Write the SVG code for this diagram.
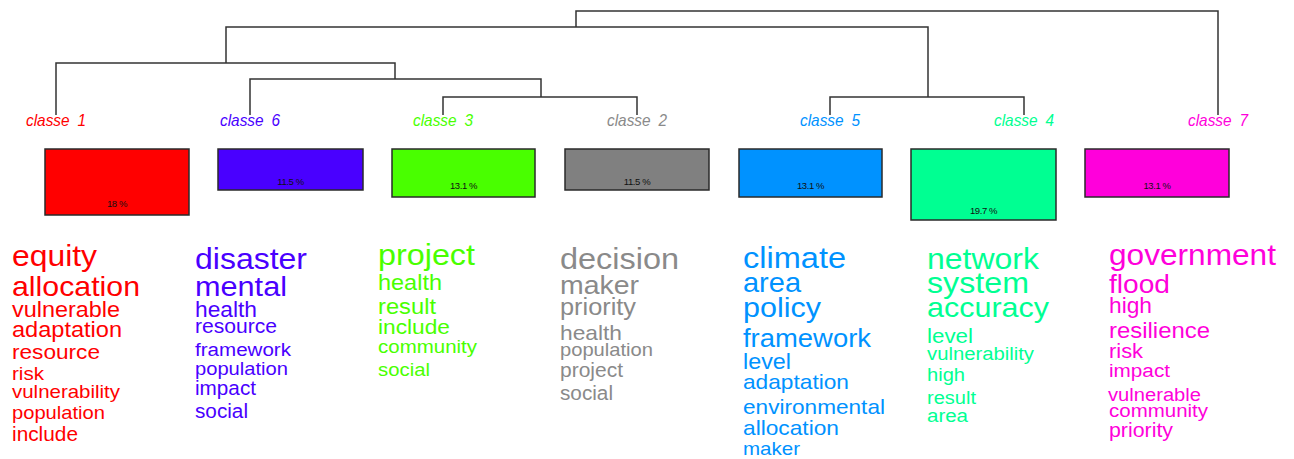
<svg xmlns="http://www.w3.org/2000/svg" width="1294" height="459" viewBox="0 0 1294 459">
<style>
text{font-family:"Liberation Sans",Arial,sans-serif}
.lbl{font-size:17px;font-style:italic;text-anchor:middle;word-spacing:4px}
.box{stroke:#2a2a2a;stroke-width:1.5}
.pct{font-size:9.5px;fill:#111;text-anchor:middle;letter-spacing:-0.4px}
.dend{fill:none;stroke:#333;stroke-width:1.5}
.c1{fill:#FF0000}.c2{fill:#8a8a8a}.c3{fill:#49FF00}.c4{fill:#00FF92}.c5{fill:#0092FF}.c6{fill:#4900FF}.c7{fill:#FF00DB}
</style>
<rect width="1294" height="459" fill="#fff"/>
<g id="connectors" class="dend">
<path d="M576,27 V11 H1218 V115"/>
<path d="M226,63 V27 H928 V97"/>
<path d="M56,115 V63 H395 V79"/>
<path d="M250,115 V79 H541 V97"/>
<path d="M443,115 V97 H637 V115"/>
<path d="M830,115 V97 H1024 V115"/>
</g>
<g id="classe1">
<text class="lbl c1" x="56" y="126" textLength="60" lengthAdjust="spacingAndGlyphs">classe 1</text>
<rect class="box" x="45" y="149" width="144" height="66" fill="#FF0000"/>
<text class="pct" x="117" y="206.5">18 %</text>
<g class="c1">
<text x="12" y="266" font-size="29.8" textLength="85" lengthAdjust="spacingAndGlyphs">equity</text>
<text x="12" y="296" font-size="28.3" textLength="128" lengthAdjust="spacingAndGlyphs">allocation</text>
<text x="12" y="317" font-size="21.9" textLength="108" lengthAdjust="spacingAndGlyphs">vulnerable</text>
<text x="12" y="337" font-size="21.9" textLength="110" lengthAdjust="spacingAndGlyphs">adaptation</text>
<text x="12" y="359" font-size="21.1" textLength="88" lengthAdjust="spacingAndGlyphs">resource</text>
<text x="12" y="380" font-size="19" textLength="32" lengthAdjust="spacingAndGlyphs">risk</text>
<text x="12" y="398" font-size="19" textLength="108" lengthAdjust="spacingAndGlyphs">vulnerability</text>
<text x="12" y="419" font-size="18.6" textLength="93" lengthAdjust="spacingAndGlyphs">population</text>
<text x="12" y="441" font-size="19.3" textLength="66" lengthAdjust="spacingAndGlyphs">include</text>
</g>
</g>
<g id="classe6">
<text class="lbl c6" x="250" y="126" textLength="60" lengthAdjust="spacingAndGlyphs">classe 6</text>
<rect class="box" x="218" y="149" width="145" height="41" fill="#4900FF"/>
<text class="pct" x="290.5" y="185">11.5 %</text>
<g class="c6">
<text x="195" y="269" font-size="29.7" textLength="112" lengthAdjust="spacingAndGlyphs">disaster</text>
<text x="195" y="296" font-size="28.4" textLength="92" lengthAdjust="spacingAndGlyphs">mental</text>
<text x="195" y="317" font-size="21.3" textLength="62" lengthAdjust="spacingAndGlyphs">health</text>
<text x="195" y="333" font-size="19.5" textLength="82" lengthAdjust="spacingAndGlyphs">resource</text>
<text x="195" y="356" font-size="19.2" textLength="96" lengthAdjust="spacingAndGlyphs">framework</text>
<text x="195" y="375" font-size="18.6" textLength="93" lengthAdjust="spacingAndGlyphs">population</text>
<text x="195" y="395" font-size="19.3" textLength="61" lengthAdjust="spacingAndGlyphs">impact</text>
<text x="195" y="418" font-size="19.4" textLength="53" lengthAdjust="spacingAndGlyphs">social</text>
</g>
</g>
<g id="classe3">
<text class="lbl c3" x="443" y="126" textLength="60" lengthAdjust="spacingAndGlyphs">classe 3</text>
<rect class="box" x="392" y="149" width="143" height="48" fill="#49FF00"/>
<text class="pct" x="463.5" y="189">13.1 %</text>
<g class="c3">
<text x="378" y="265" font-size="30" textLength="97" lengthAdjust="spacingAndGlyphs">project</text>
<text x="378" y="290" font-size="21.9" textLength="64" lengthAdjust="spacingAndGlyphs">health</text>
<text x="378" y="314" font-size="21.9" textLength="58" lengthAdjust="spacingAndGlyphs">result</text>
<text x="378" y="334" font-size="21" textLength="72" lengthAdjust="spacingAndGlyphs">include</text>
<text x="378" y="353" font-size="19.1" textLength="99" lengthAdjust="spacingAndGlyphs">community</text>
<text x="378" y="376" font-size="19.1" textLength="52" lengthAdjust="spacingAndGlyphs">social</text>
</g>
</g>
<g id="classe2">
<text class="lbl c2" x="637" y="126" textLength="60" lengthAdjust="spacingAndGlyphs">classe 2</text>
<rect class="box" x="565" y="149" width="144" height="41" fill="#808080"/>
<text class="pct" x="637" y="185">11.5 %</text>
<g class="c2">
<text x="560" y="269" font-size="30.1" textLength="119" lengthAdjust="spacingAndGlyphs">decision</text>
<text x="560" y="294" font-size="26.5" textLength="79" lengthAdjust="spacingAndGlyphs">maker</text>
<text x="560" y="315" font-size="23.5" textLength="76" lengthAdjust="spacingAndGlyphs">priority</text>
<text x="560" y="340" font-size="21" textLength="62" lengthAdjust="spacingAndGlyphs">health</text>
<text x="560" y="356" font-size="18.6" textLength="93" lengthAdjust="spacingAndGlyphs">population</text>
<text x="560" y="377" font-size="19.4" textLength="63" lengthAdjust="spacingAndGlyphs">project</text>
<text x="560" y="400" font-size="19.4" textLength="53" lengthAdjust="spacingAndGlyphs">social</text>
</g>
</g>
<g id="classe5">
<text class="lbl c5" x="830" y="126" textLength="60" lengthAdjust="spacingAndGlyphs">classe 5</text>
<rect class="box" x="739" y="149" width="143" height="48" fill="#0092FF"/>
<text class="pct" x="810.5" y="189">13.1 %</text>
<g class="c5">
<text x="743" y="268" font-size="30.3" textLength="103" lengthAdjust="spacingAndGlyphs">climate</text>
<text x="743" y="292" font-size="27.1" textLength="58" lengthAdjust="spacingAndGlyphs">area</text>
<text x="743" y="317" font-size="28.5" textLength="78" lengthAdjust="spacingAndGlyphs">policy</text>
<text x="743" y="347" font-size="25.6" textLength="128" lengthAdjust="spacingAndGlyphs">framework</text>
<text x="743" y="369" font-size="21.9" textLength="48" lengthAdjust="spacingAndGlyphs">level</text>
<text x="743" y="389" font-size="21.1" textLength="106" lengthAdjust="spacingAndGlyphs">adaptation</text>
<text x="743" y="414" font-size="21.1" textLength="142" lengthAdjust="spacingAndGlyphs">environmental</text>
<text x="743" y="435" font-size="21.1" textLength="96" lengthAdjust="spacingAndGlyphs">allocation</text>
<text x="743" y="455" font-size="19" textLength="57" lengthAdjust="spacingAndGlyphs">maker</text>
</g>
</g>
<g id="classe4">
<text class="lbl c4" x="1024" y="126" textLength="60" lengthAdjust="spacingAndGlyphs">classe 4</text>
<rect class="box" x="911" y="149" width="145" height="71" fill="#00FF92"/>
<text class="pct" x="983.5" y="214">19.7 %</text>
<g class="c4">
<text x="927" y="269" font-size="29.7" textLength="112" lengthAdjust="spacingAndGlyphs">network</text>
<text x="927" y="293" font-size="29.9" textLength="102" lengthAdjust="spacingAndGlyphs">system</text>
<text x="927" y="317" font-size="28.3" textLength="122" lengthAdjust="spacingAndGlyphs">accuracy</text>
<text x="927" y="343" font-size="20.6" textLength="46" lengthAdjust="spacingAndGlyphs">level</text>
<text x="927" y="360" font-size="18.8" textLength="107" lengthAdjust="spacingAndGlyphs">vulnerability</text>
<text x="927" y="381" font-size="18.5" textLength="38" lengthAdjust="spacingAndGlyphs">high</text>
<text x="927" y="404" font-size="18.8" textLength="49" lengthAdjust="spacingAndGlyphs">result</text>
<text x="927" y="422" font-size="18.9" textLength="41" lengthAdjust="spacingAndGlyphs">area</text>
</g>
</g>
<g id="classe7">
<text class="lbl c7" x="1218" y="126" textLength="60" lengthAdjust="spacingAndGlyphs">classe 7</text>
<rect class="box" x="1085" y="149" width="144" height="48" fill="#FF00DB"/>
<text class="pct" x="1157" y="189">13.1 %</text>
<g class="c7">
<text x="1109" y="265" font-size="29.4" textLength="167" lengthAdjust="spacingAndGlyphs">government</text>
<text x="1109" y="293" font-size="26" textLength="61" lengthAdjust="spacingAndGlyphs">flood</text>
<text x="1109" y="313" font-size="21.2" textLength="43" lengthAdjust="spacingAndGlyphs">high</text>
<text x="1109" y="338" font-size="22.3" textLength="101" lengthAdjust="spacingAndGlyphs">resilience</text>
<text x="1109" y="358" font-size="20.4" textLength="34" lengthAdjust="spacingAndGlyphs">risk</text>
<text x="1109" y="377" font-size="19.2" textLength="61" lengthAdjust="spacingAndGlyphs">impact</text>
<text x="1108" y="401" font-size="18.8" textLength="93" lengthAdjust="spacingAndGlyphs">vulnerable</text>
<text x="1109" y="417" font-size="19.1" textLength="99" lengthAdjust="spacingAndGlyphs">community</text>
<text x="1109" y="437" font-size="19.8" textLength="64" lengthAdjust="spacingAndGlyphs">priority</text>
</g>
</g>
</svg>
